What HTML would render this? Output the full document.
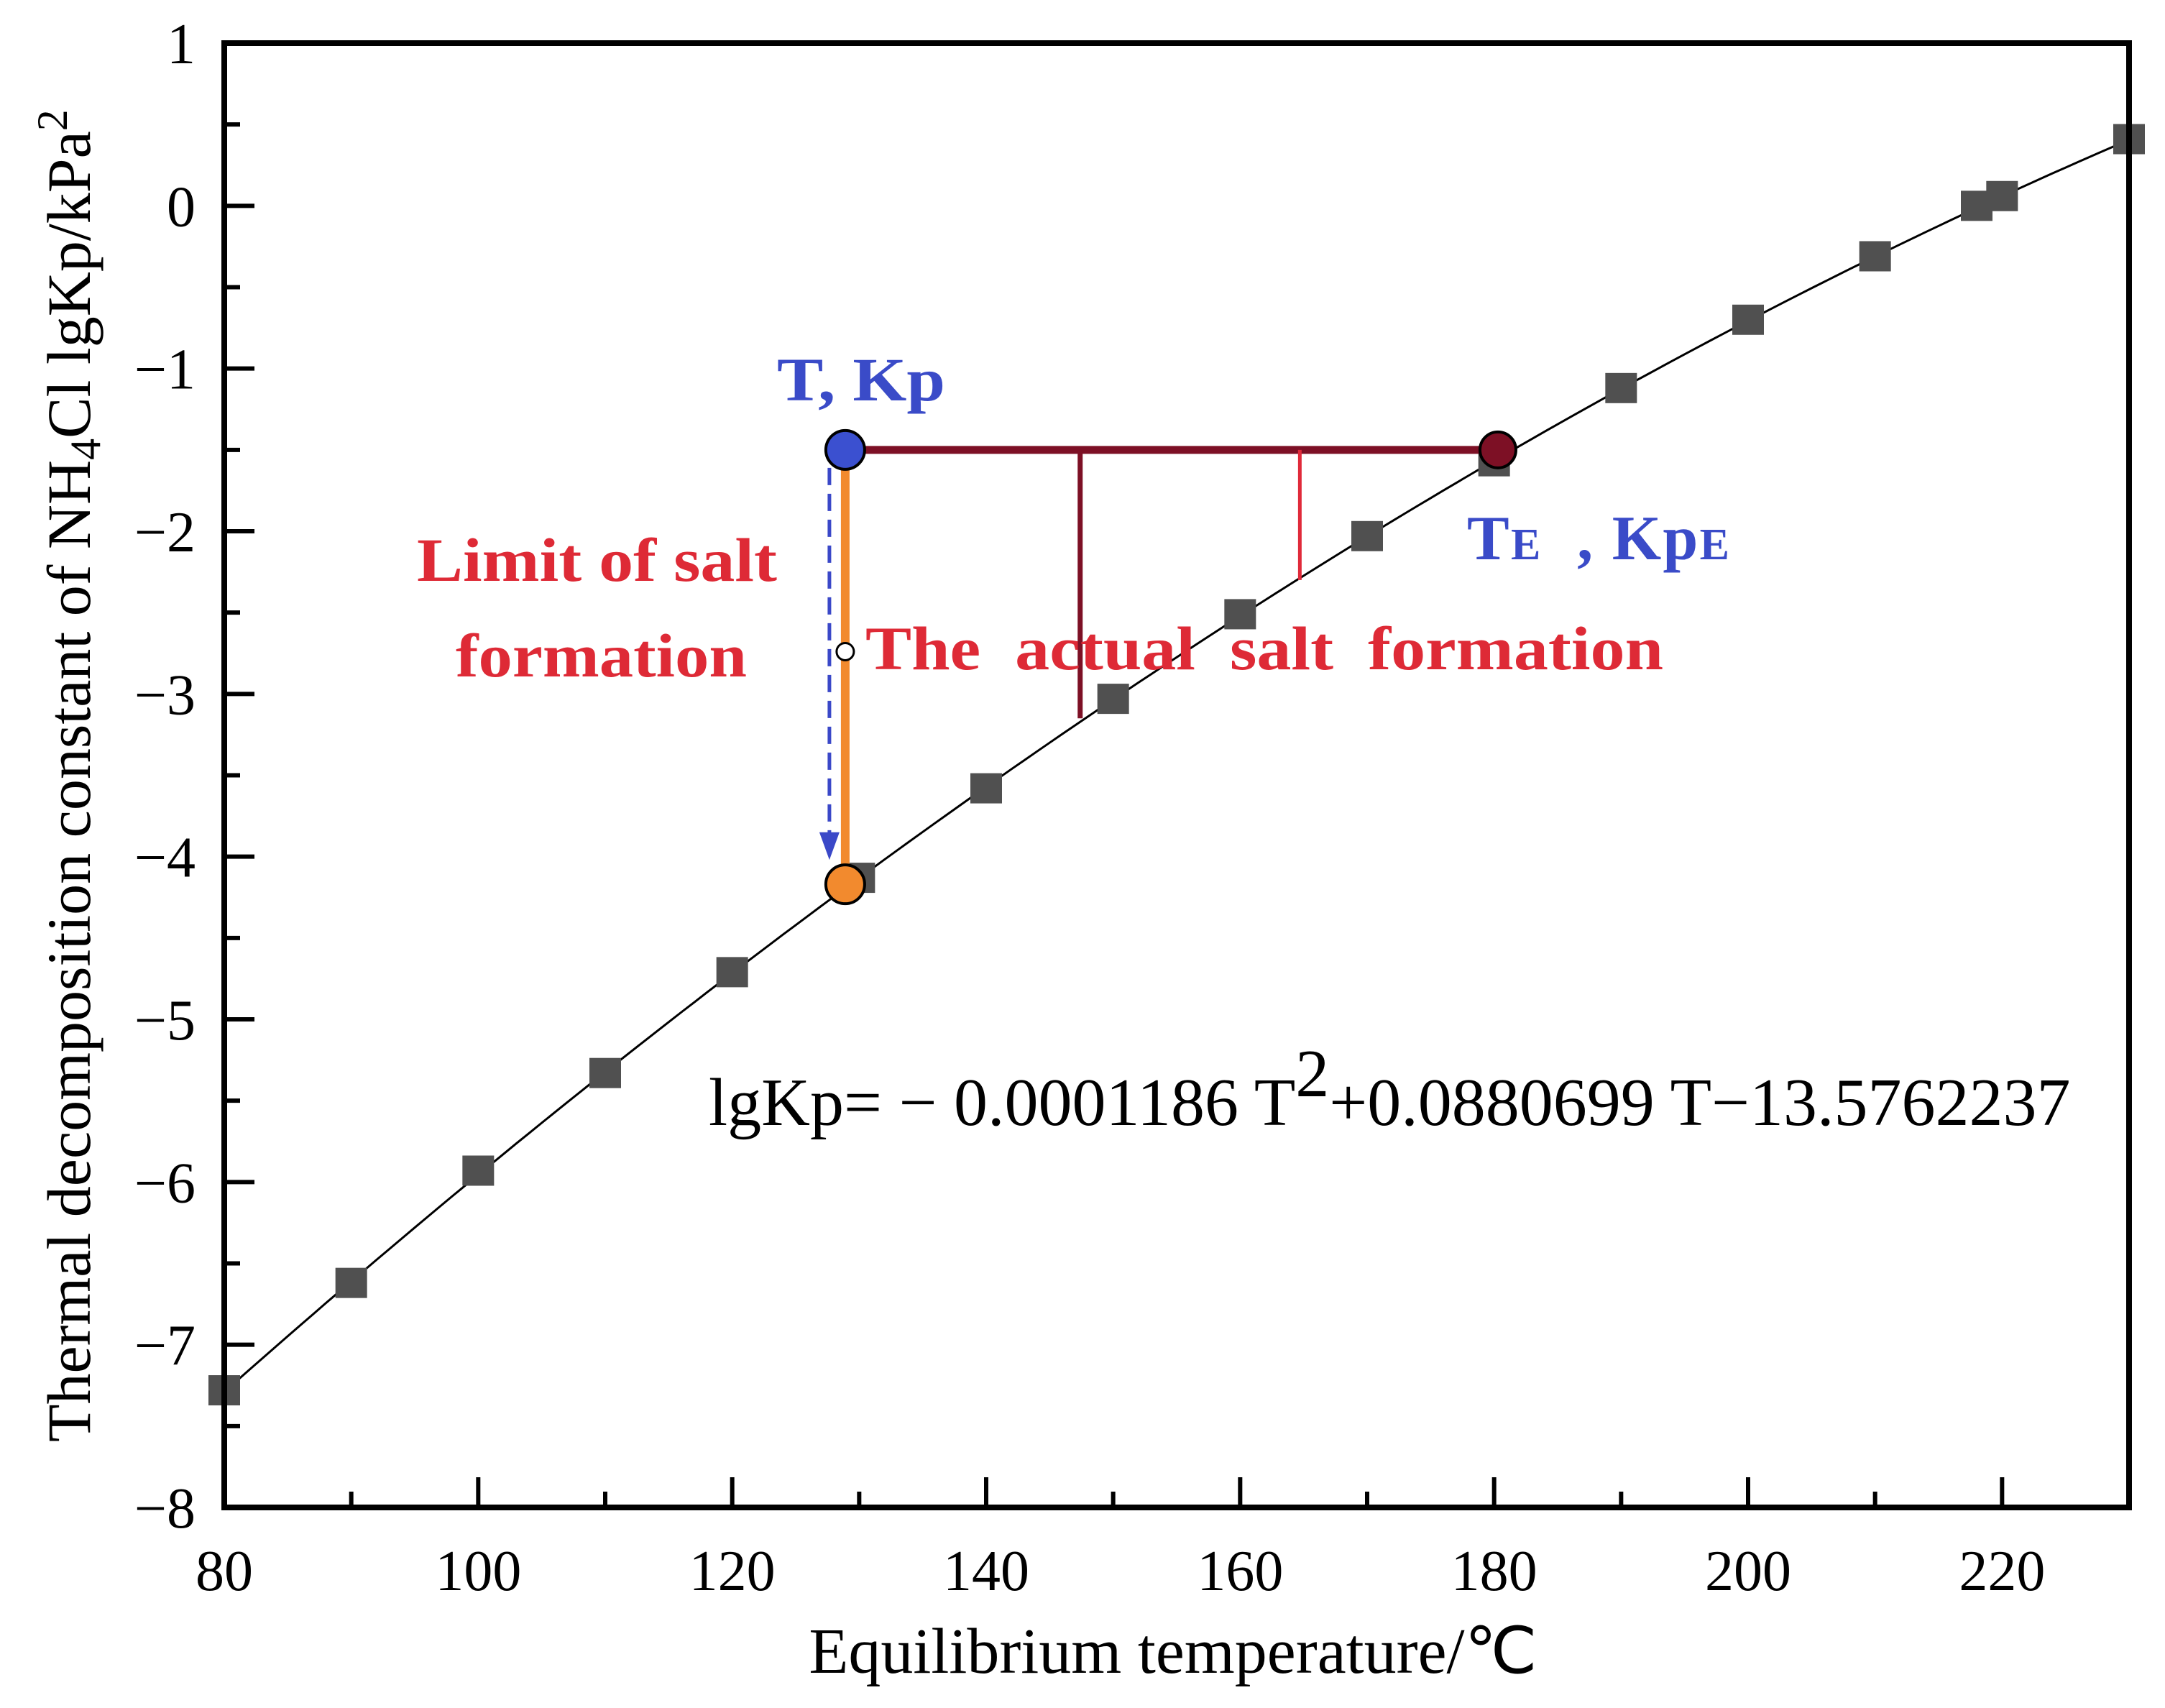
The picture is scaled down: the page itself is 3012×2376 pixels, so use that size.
<!DOCTYPE html>
<html><head><meta charset="utf-8"><style>
html,body{margin:0;padding:0;background:#fff;}
svg{display:block;font-family:"Liberation Serif",serif;}
</style></head><body>
<svg id="chart" width="3012" height="2376" viewBox="0 0 3012 2376" xmlns="http://www.w3.org/2000/svg">
</svg>
<script>
const temps = [80, 90, 100, 110, 120, 130, 140, 150, 160, 170, 180, 190, 200, 210, 218, 220, 230];
const lgKp = [-7.28, -6.62, -5.93, -5.33, -4.71, -4.13, -3.58, -3.03, -2.51, -2.03, -1.57, -1.12, -0.70, -0.31, 0.0, 0.06, 0.41];
const xTicks = [80, 100, 120, 140, 160, 180, 200, 220];
const yTicks = [1, 0, -1, -2, -3, -4, -5, -6, -7, -8];
const fitCoef = [-0.0001186, 0.0880699, -13.5762237];
const ptT = 128.9, ptKp = -1.5, ptTE = 180.3, ptKpLimit = -4.17, ptMid = -2.74;
const vDark = [147.4, -3.15], vRed = [164.7, -2.30];

const X0 = 312, X1 = 2962, Y0 = 60, Y1 = 2097;
const xs = v => X0 + (v - 80) / 150 * (X1 - X0);
const ys = v => Y0 + (1 - v) / 9 * (Y1 - Y0);
const NS = "http://www.w3.org/2000/svg";
const svg = document.getElementById('chart');
function mk(tag, attrs, parent) {
  const e = document.createElementNS(NS, tag);
  for (const k in attrs) e.setAttribute(k, attrs[k]);
  (parent || svg).appendChild(e);
  return e;
}

let d = '';
for (let t = 80; t <= 230; t += 1) {
  const v = fitCoef[0] * t * t + fitCoef[1] * t + fitCoef[2];
  d += (t === 80 ? 'M' : 'L') + xs(t).toFixed(1) + ' ' + ys(v).toFixed(1);
}
const fit = mk('path', {d: d, fill: 'none', stroke: '#000', 'stroke-width': 3});



temps.forEach((t, i) => {
  const r = mk('rect', {x: xs(t) - 22, y: ys(lgKp[i]) - 21, width: 44, height: 42, fill: '#505050'});
  
  
});

const frame = mk('rect', {x: X0, y: Y0, width: X1 - X0, height: Y1 - Y0, fill: 'none', stroke: '#000', 'stroke-width': 8});



yTicks.forEach(v => {
  const y = ys(v);
  const tk = mk('line', {x1: X0, x2: X0 + 42, y1: y, y2: y, stroke: '#000', 'stroke-width': 6});
  
  
  if (v > -8) {
    const ym = ys(v - 0.5);
    const mt = mk('line', {x1: X0, x2: X0 + 22, y1: ym, y2: ym, stroke: '#000', 'stroke-width': 6});
    
    
  }
  const lb = mk('text', {x: 272, y: y + 28, 'text-anchor': 'end', 'font-size': 80, fill: '#000'});
  lb.textContent = v < 0 ? '\u2212' + (-v) : String(v);
  
  
});
for (let t = 80; t <= 230; t += 10) {
  const major = t % 20 === 0;
  const tk = mk('line', {x1: xs(t), x2: xs(t), y1: Y1, y2: Y1 - (major ? 42 : 22), stroke: '#000', 'stroke-width': 6});
  
  
}
xTicks.forEach(t => {
  const lb = mk('text', {x: xs(t), y: 2212, 'text-anchor': 'middle', 'font-size': 80, fill: '#000'});
  lb.textContent = String(t);
  
  
});

const hbar = mk('line', {x1: xs(ptT), x2: xs(ptTE), y1: ys(ptKp), y2: ys(ptKp), stroke: '#7d1025', 'stroke-width': 11});


const vd = mk('line', {x1: xs(vDark[0]), x2: xs(vDark[0]), y1: ys(ptKp), y2: ys(vDark[1]), stroke: '#7d1025', 'stroke-width': 7});


const vr = mk('line', {x1: xs(vRed[0]), x2: xs(vRed[0]), y1: ys(ptKp), y2: ys(vRed[1]), stroke: '#e02a3a', 'stroke-width': 5});


const ax = xs(ptT) - 22;
const dash = mk('line', {x1: ax, x2: ax, y1: ys(ptKp) + 25, y2: ys(-3.95), stroke: '#3a48c8', 'stroke-width': 5, 'stroke-dasharray': '24 12'});


const head = mk('path', {d: `M${ax - 14} ${ys(-3.85)} L${ax + 14} ${ys(-3.85)} L${ax} ${ys(-4.02)} Z`, fill: '#3a48c8'});


const ov = mk('line', {x1: xs(ptT), x2: xs(ptT), y1: ys(ptKp), y2: ys(ptKpLimit), stroke: '#f28a2e', 'stroke-width': 12});


const c1 = mk('circle', {cx: xs(ptT), cy: ys(ptKp), r: 27, fill: '#3b50d0', stroke: '#000', 'stroke-width': 4});


const c2 = mk('circle', {cx: xs(ptTE), cy: ys(ptKp), r: 25, fill: '#7d1025', stroke: '#000', 'stroke-width': 4});


const c3 = mk('circle', {cx: xs(ptT), cy: ys(ptKpLimit), r: 27, fill: '#f28a2e', stroke: '#000', 'stroke-width': 4});


const c4 = mk('circle', {cx: xs(ptT), cy: ys(ptMid), r: 12, fill: '#fff', stroke: '#000', 'stroke-width': 3});



svg.insertAdjacentHTML('beforeend', `
<text x="1081" y="557" font-size="86" font-weight="bold" fill="#3a4bc8" textLength="234" lengthAdjust="spacingAndGlyphs">T, Kp</text>
<text x="580" y="808" font-size="86" font-weight="bold" fill="#de2a36" textLength="501" lengthAdjust="spacingAndGlyphs">Limit of salt</text>
<text x="634" y="941" font-size="86" font-weight="bold" fill="#de2a36" textLength="405" lengthAdjust="spacingAndGlyphs">formation</text>
<text x="1204" y="931" font-size="86" font-weight="bold" fill="#de2a36" textLength="1110" lengthAdjust="spacingAndGlyphs" xml:space="preserve">The  actual  salt  formation</text>
<text x="2041" y="778" font-size="88" font-weight="bold" fill="#3a4bc8" textLength="365" lengthAdjust="spacing" xml:space="preserve">T<tspan font-size="62">E</tspan>  , Kp<tspan font-size="62">E</tspan></text>
<text x="986" y="1565" font-size="94" fill="#000">lgKp= \u2212 0.0001186 T<tspan dy="-40">2</tspan><tspan dy="40">+0.0880699 T\u221213.5762237</tspan></text>
<text x="1632" y="2327" font-size="90" text-anchor="middle" fill="#000">Equilibrium temperature/\u2103</text>
<text transform="translate(125,2006) rotate(-90)" x="0" y="0" font-size="86" fill="#000">Thermal decomposition constant of NH<tspan font-size="60" dy="14">4</tspan><tspan dy="-14">Cl lgKp/kPa</tspan><tspan font-size="60" dy="-32">2</tspan></text>
`);
</script>
</body></html>
